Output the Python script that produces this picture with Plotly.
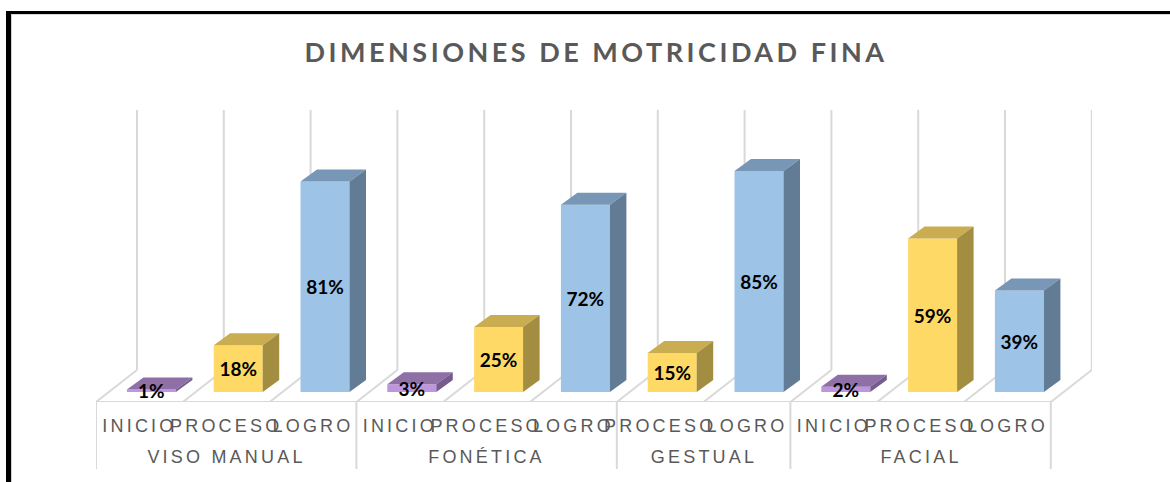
import plotly.graph_objects as go

TITLE = "DIMENSIONES DE MOTRICIDAD FINA"
groups = ["VISO MANUAL", "FONÉTICA", "GESTUAL", "FACIAL"]
group_sizes = [3, 3, 2, 3]
categories = ["INICIO", "PROCESO", "LOGRO",
              "INICIO", "PROCESO", "LOGRO",
              "PROCESO", "LOGRO",
              "INICIO", "PROCESO", "LOGRO"]
values = [1, 18, 81, 3, 25, 72, 15, 85, 2, 59, 39]

series_colors = {
    "INICIO": ("#BE96DD", "#8E6FA6", "#765C8E"),
    "PROCESO": ("#FFD966", "#C9AD50", "#A38D40"),
    "LOGRO": ("#9DC3E6", "#7896B6", "#637C95"),
}

W, H = 1170, 482
L, R, T, B = 96, 1092, 110, 402
CELL = 86.8          # px per category
PX_PER_PCT = 2.6
Y0_PX = 392
x_range = [-0.5, (R - L) / CELL - 0.5]
y_range = [-(B - Y0_PX) / PX_PER_PCT, (Y0_PX - T) / PX_PER_PCT]

bar_offset, bar_width = 12 / CELL, 49 / CELL
bar_dx, bar_dy = 16.5 / CELL, 12 / PX_PER_PCT
wall_dx, wall_dy = 41 / CELL, 32 / PX_PER_PCT
label_drop = 3 / PX_PER_PCT
GRID = "#D9D9D9"
TEXT = "#595959"

fig = go.Figure()
for name, (front, top, side) in series_colors.items():
    idx = [i for i, c in enumerate(categories) if c == name]
    fig.add_bar(x=[i + bar_offset for i in idx], y=[values[i] for i in idx],
                width=bar_width, name=name, marker=dict(color=front, line_width=0),
                showlegend=False)
    tx, ty, sx, sy = [], [], [], []
    for i in idx:
        a = i + bar_offset - bar_width / 2
        b = a + bar_width
        v = values[i]
        tx += [a, b, b + bar_dx, a + bar_dx, a, None]
        ty += [v, v, v + bar_dy, v + bar_dy, v, None]
        sx += [b, b + bar_dx, b + bar_dx, b, b, None]
        sy += [0, bar_dy, v + bar_dy, v, 0, None]
    for xs, ys, col in ((tx, ty, top), (sx, sy, side)):
        fig.add_scatter(x=xs, y=ys, mode="lines", fill="toself", fillcolor=col,
                        line=dict(width=0, color=col), hoverinfo="skip", showlegend=False)

fig.add_scatter(x=[i + bar_offset for i in range(len(values))],
                y=[v / 2 - label_drop for v in values], mode="text",
                text=[f"{v}%" for v in values], textposition="middle center",
                textfont=dict(family="Lato", size=19, color="#000000", weight="bold"),
                hoverinfo="skip", showlegend=False)

shapes = []
def seg(x0, y0, x1, y1, **kw):
    shapes.append(dict(type="line", xref="x", yref="y", x0=x0, y0=y0, x1=x1, y1=y1,
                       layer="below", line=dict(color=GRID, width=2), **kw))

y_front = y_range[0]
for k in range(len(categories) + 1):
    xf = k - 0.5
    seg(xf, y_front, xf + wall_dx, y_front + wall_dy)
    seg(xf + wall_dx, y_front + wall_dy, xf + wall_dx, y_range[1])
seg(-0.5, y_front, len(categories) - 0.5, y_front)

pos = -0.5
ann = []
drop_div = (469 - B) / (B - T)
drop_lab = (457 - B) / (B - T)
edges = [pos]
for g, n in zip(groups, group_sizes):
    ann.append(dict(x=pos + n / 2, xref="x", y=-drop_lab, yref="paper", text=g, showarrow=False,
                    xanchor="center", yanchor="middle",
                    font=dict(family="Liberation Sans", size=18, color=TEXT)))
    pos += n
    edges.append(pos)
for e in edges:
    shapes.append(dict(type="line", xref="x", yref="paper", x0=e, x1=e, y0=0, y1=-drop_div,
                       line=dict(color=GRID, width=2)))

# black frame, left and top
shapes += [
    dict(type="rect", xref="paper", yref="paper", x0=-(L - 11) / (R - L), x1=-(L - 12) / (R - L),
         y0=-(H - B) / (B - T), y1=(B - 14) / (B - T), fillcolor="#D0D0D0", line_width=0),
    dict(type="rect", xref="paper", yref="paper", x0=-(L - 11) / (R - L), x1=(W - L) / (R - L),
         y0=(B - 15) / (B - T), y1=(B - 14) / (B - T), fillcolor="#D8D8D8", line_width=0),
    dict(type="rect", xref="paper", yref="paper", x0=-(L - 6) / (R - L), x1=-(L - 11) / (R - L),
         y0=-(H - B) / (B - T), y1=(B - 11) / (B - T), fillcolor="#000000", line_width=0),
    dict(type="rect", xref="paper", yref="paper", x0=-(L - 6) / (R - L), x1=(W - L) / (R - L),
         y0=(B - 14) / (B - T), y1=(B - 11) / (B - T), fillcolor="#000000", line_width=0),
]

fig.update_layout(
    width=W, height=H, autosize=False,
    margin=dict(l=L, r=W - R, t=T, b=H - B, pad=0),
    paper_bgcolor="white", plot_bgcolor="rgba(0,0,0,0)",
    barmode="overlay", showlegend=False,
    title=dict(text=TITLE, x=596 / W, y=1 - 53 / H, xref="container",
               yref="container", xanchor="center", yanchor="middle",
               font=dict(family="Lato", size=27, color=TEXT, weight="bold")),
    xaxis=dict(range=x_range, tickmode="array", tickvals=list(range(len(categories))),
               ticktext=categories, tickangle=0, ticks="", showgrid=False, zeroline=False,
               showline=False, ticklabelstandoff=11,
               tickfont=dict(family="Liberation Sans", size=18, color=TEXT)),
    yaxis=dict(range=y_range, visible=False, showgrid=False, zeroline=False),
    shapes=shapes, annotations=ann,
)

post = """
document.documentElement.style.margin='0';document.body.style.margin='0';document.body.style.overflow='hidden';
document.querySelectorAll('.xtick text, .annotation-text').forEach(function(t){t.style.letterSpacing='3.2px';});
document.querySelectorAll('.gtitle').forEach(function(t){t.style.letterSpacing='3.5px';});
"""
fig.write_html("out.html", post_script=post, config={"displayModeBar": False})
